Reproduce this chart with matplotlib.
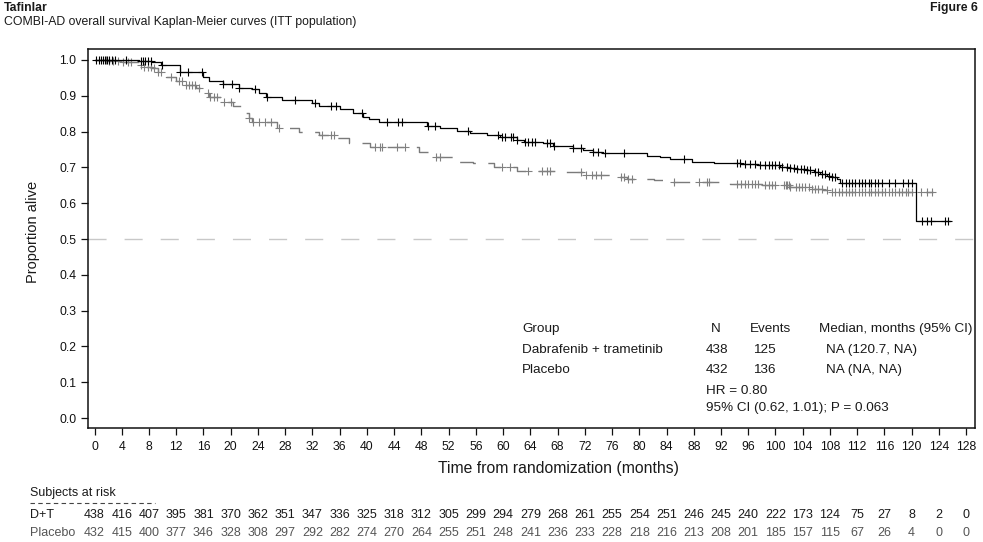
import numpy as np
import matplotlib
matplotlib.use("Agg")
import matplotlib.pyplot as plt
from matplotlib.transforms import blended_transform_factory
from matplotlib.lines import Line2D

plt.rcParams['font.family'] = ['Liberation Sans', 'DejaVu Sans']

# ---------------- data ----------------
dt_times = [0, 6.5, 8.4, 9.8, 12.5, 15.9, 16.8, 18.8, 21.2, 23.2, 24.2, 25.2, 27.6, 32, 33, 36,
            37.9, 39.4, 40.3, 41.8, 48.8, 50.7, 53.2, 55.1, 57.6, 59.5, 62, 63, 65.9, 67.4,
            70.3, 71.8, 73.2, 74.7, 81.1, 83, 84.5, 87.7, 90.9, 95, 97.5, 100.7, 102, 103.1,
            104.5, 105.6, 106.5, 107.5, 108.3, 109, 109.5, 120.7, 125.6]
dt_surv = [1.0, 0.997, 0.995, 0.986, 0.967, 0.953, 0.94, 0.932, 0.923, 0.918, 0.908, 0.897, 0.888,
           0.88, 0.871, 0.862, 0.851, 0.842, 0.834, 0.826, 0.816, 0.809, 0.802, 0.797, 0.79,
           0.786, 0.777, 0.772, 0.767, 0.76, 0.755, 0.749, 0.744, 0.739, 0.732, 0.728, 0.723,
           0.716, 0.713, 0.709, 0.706, 0.702, 0.699, 0.696, 0.692, 0.688, 0.682, 0.677, 0.672,
           0.667, 0.657, 0.55, 0.55]
dt_censor = [0.2, 0.6, 0.9, 1.2, 1.5, 1.8, 2.2, 2.5, 3.0, 4.6, 6.8, 7.1, 7.4, 7.8, 8.3,
             9.9, 12.6, 13.7, 15.8, 18.9, 20.2, 21.2, 23.5, 25.3, 29.4, 32.4, 34.7, 35.4, 39.3,
             42.9, 44.6, 45.1, 48.9, 50.0, 54.9, 59.3, 59.8, 60.3, 61.2, 61.5, 62.1, 63.2, 63.7,
             64.2, 64.7, 66.4, 66.9, 67.5, 70.3, 71.5, 73.2, 73.9, 74.9, 77.8, 86.5, 94.3, 94.8,
             95.5, 96.2, 97.0, 97.7, 98.5, 99.0, 99.5, 100.0, 100.5, 101.0, 101.7, 102.2, 102.7,
             103.2, 103.7, 104.2, 104.6, 105.1, 105.8, 106.3, 106.8, 107.3, 107.8, 108.3, 108.8,
             109.8, 110.3, 110.8, 111.2, 111.7, 112.2, 112.7, 113.2, 113.7, 114.1, 114.6, 115.1,
             115.6, 116.6, 117.6, 118.8, 119.5, 120.0, 121.5, 122.2, 122.9, 124.9, 125.4]

pl_times = [0, 2.0, 4.0, 6.6, 7.1, 8.5, 9.3, 10.5, 12, 13.4, 14.9, 15.9, 16.8, 18.8, 20.3, 21.8,
            22.2, 22.7, 23.2, 26.8, 30.1, 33, 35.5, 37.4, 40.5, 47.6, 50, 52.7, 55.6, 58.6, 62,
            68.8, 71.8, 76.2, 78.2, 82.1, 85, 93.3, 98, 102.1, 105, 107, 108, 123.2]
pl_surv = [1.0, 0.997, 0.993, 0.986, 0.981, 0.977, 0.967, 0.953, 0.94, 0.93, 0.921, 0.907, 0.897,
           0.884, 0.871, 0.86, 0.851, 0.837, 0.828, 0.809, 0.8, 0.791, 0.781, 0.767, 0.758,
           0.744, 0.73, 0.716, 0.711, 0.702, 0.691, 0.688, 0.679, 0.674, 0.668, 0.665, 0.66,
           0.654, 0.65, 0.646, 0.641, 0.637, 0.63, 0.63]
pl_censor = [1.7, 2.2, 2.7, 3.4, 4.2, 4.9, 5.4, 6.8, 7.3, 7.8, 8.3, 8.8, 9.3, 9.8, 11.2,
             12.4, 12.9, 13.4, 13.9, 14.3, 14.8, 15.3, 16.6, 17.0, 17.5, 18.0, 19.0, 20.0,
             22.7, 23.3, 24.2, 25.0, 25.9, 27.1, 33.4, 34.8, 35.1, 41.2, 41.9, 42.2, 44.4, 45.6,
             50.1, 50.7, 59.8, 61.0, 63.7, 65.7, 66.4, 66.9, 71.5, 72.2, 73.0, 73.7, 74.4, 77.3,
             77.8, 78.3, 79.0, 85.1, 88.7, 89.9, 90.2, 94.3, 95.0, 95.5, 96.0, 96.5, 97.0, 97.5,
             98.5, 99.0, 99.5, 100.0, 101.2, 101.5, 101.7, 102.0, 102.2, 103.0, 103.4, 103.9,
             104.4, 104.9, 105.4, 105.8, 106.3, 106.8, 107.5, 108.3, 108.8, 109.3, 109.8, 110.3,
             110.8, 111.2, 111.7, 112.2, 112.7, 113.2, 113.7, 114.1, 114.6, 115.1, 115.6, 116.1,
             116.6, 117.1, 117.6, 118.1, 118.6, 119.1, 119.5, 120.0, 121.3, 122.2, 123.0]

risk_times = list(range(0, 129, 4))
risk_dt = [438, 416, 407, 395, 381, 370, 362, 351, 347, 336, 325, 318, 312, 305, 299, 294, 279,
           268, 261, 255, 254, 251, 246, 245, 240, 222, 173, 124, 75, 27, 8, 2, 0]
risk_pl = [432, 415, 400, 377, 346, 328, 308, 297, 292, 282, 274, 270, 264, 255, 251, 248, 241,
           236, 233, 228, 218, 216, 213, 208, 201, 185, 157, 115, 67, 26, 4, 0, 0]

legend_header = ["Group", "N", "Events", "Median, months (95% CI)"]
legend_rows = [["Dabrafenib + trametinib", "438", "125", "NA (120.7, NA)"],
               ["Placebo", "432", "136", "NA (NA, NA)"]]
hr_lines = ["HR = 0.80", "95% CI (0.62, 1.01); P = 0.063"]

# ---------------- figure ----------------
W, H = 983, 542
fig = plt.figure(figsize=(W / 100, H / 100), dpi=100)

def fx(px):
    return px / W

def fy(py):
    return 1 - py / H

ax_l, ax_r, ax_t, ax_b = 87.5, 975, 49, 427.5
ax = fig.add_axes([fx(ax_l), fy(ax_b), fx(ax_r - ax_l), (ax_b - ax_t) / H])
ax.set_xlim(-1.03, 129.3)
ax.set_ylim(-0.0265, 1.0307)

FS_TICK = 8.8
FS_RISK = 9.0
FS_LEG = 9.7
FS_LAB = 10.5
FS_XLAB = 11.3
FS_TITLE = 8.8
BLACK = "#000000"
GRAY = "#7a7a7a"
TXT = "#1a1a1a"

def step_value(times, surv, t):
    idx = np.searchsorted(np.asarray(times), t, side="right") - 1
    return np.asarray(surv)[idx]

# reference line at 0.5
ax.axhline(0.5, color="#c8c8c8", lw=1.0, linestyle=(0, (13, 13)), zorder=1)

# curves
ax.step(pl_times, pl_surv, where="post", color=GRAY, lw=1.0,
        linestyle=(0, (12, 9)), zorder=2)
ax.step(dt_times, dt_surv, where="post", color=BLACK, lw=0.9, zorder=3)

# censor marks
pc = np.asarray(pl_censor)
ax.plot(pc, step_value(pl_times, pl_surv, pc), linestyle="none", marker="+",
        markersize=6, mew=0.8, color="#808080", zorder=2)
dc = np.asarray(dt_censor)
ax.plot(dc, step_value(dt_times, dt_surv, dc), linestyle="none", marker="+",
        markersize=6, mew=0.8, color=BLACK, zorder=3)

# axes styling
for s in ax.spines.values():
    s.set_linewidth(1.1)
    s.set_color("#111111")
ax.set_xticks(risk_times)
ax.set_xticklabels([str(t) for t in risk_times])
ax.set_yticks(np.round(np.arange(0, 1.01, 0.1), 1))
ax.set_yticklabels(["%.1f" % v for v in np.arange(0, 1.01, 0.1)])
ax.tick_params(direction="out", length=5, width=0.9, labelsize=FS_TICK, pad=3,
               colors="#111111")
ax.tick_params(axis="x", pad=5)

# titles
fig.text(fx(4), fy(8), "Tafinlar", fontsize=FS_TITLE, fontweight="bold", va="center",
         ha="left", color=TXT)
fig.text(fx(4), fy(22), "COMBI-AD overall survival Kaplan-Meier curves (ITT population)",
         fontsize=FS_TITLE, va="center", ha="left", color=TXT)
fig.text(fx(978), fy(8), "Figure 6", fontsize=FS_TITLE, fontweight="bold", va="center",
         ha="right", color=TXT)

fig.text(fx(33), fy(232), "Proportion alive", fontsize=FS_LAB, rotation=90, va="center",
         ha="center", color=TXT)
fig.text(fx(558), fy(468), "Time from randomization (months)", fontsize=FS_XLAB, va="center",
         ha="center", color=TXT)

# legend table
col_x = [522, 711, 750, 819]
row_y = [329, 350, 370]
for cx, txt in zip(col_x, legend_header):
    fig.text(fx(cx), fy(row_y[0]), txt, fontsize=FS_LEG, va="center", ha="left", color=TXT)
val_x = [522, 706, 753, 826]
for ry, row in zip(row_y[1:], legend_rows):
    for cx, txt in zip(val_x, row):
        fig.text(fx(cx), fy(ry), txt, fontsize=FS_LEG, va="center", ha="left", color=TXT)
for ry, txt in zip([391, 408], hr_lines):
    fig.text(fx(706), fy(ry), txt, fontsize=FS_LEG, va="center", ha="left", color=TXT)

# at-risk table
fig.text(fx(30), fy(493), "Subjects at risk", fontsize=FS_RISK, va="center", ha="left",
         color=TXT)
fig.add_artist(Line2D([fx(30), fx(155)], [fy(503), fy(503)], transform=fig.transFigure,
                      color="#444444", lw=0.8, linestyle=(0, (4, 3))))
fig.text(fx(30), fy(515), "D+T", fontsize=FS_RISK, va="center", ha="left", color=TXT)
fig.text(fx(30), fy(533), "Placebo", fontsize=FS_RISK, va="center", ha="left", color="#555555")
trans = blended_transform_factory(ax.transData, fig.transFigure)
for t, a, b in zip(risk_times, risk_dt, risk_pl):
    fig.text(t, fy(515), str(a), transform=trans, fontsize=FS_RISK, va="center", ha="center",
             color=TXT)
    fig.text(t, fy(533), str(b), transform=trans, fontsize=FS_RISK, va="center", ha="center",
             color="#555555")

fig.savefig("out.png", dpi=100)
